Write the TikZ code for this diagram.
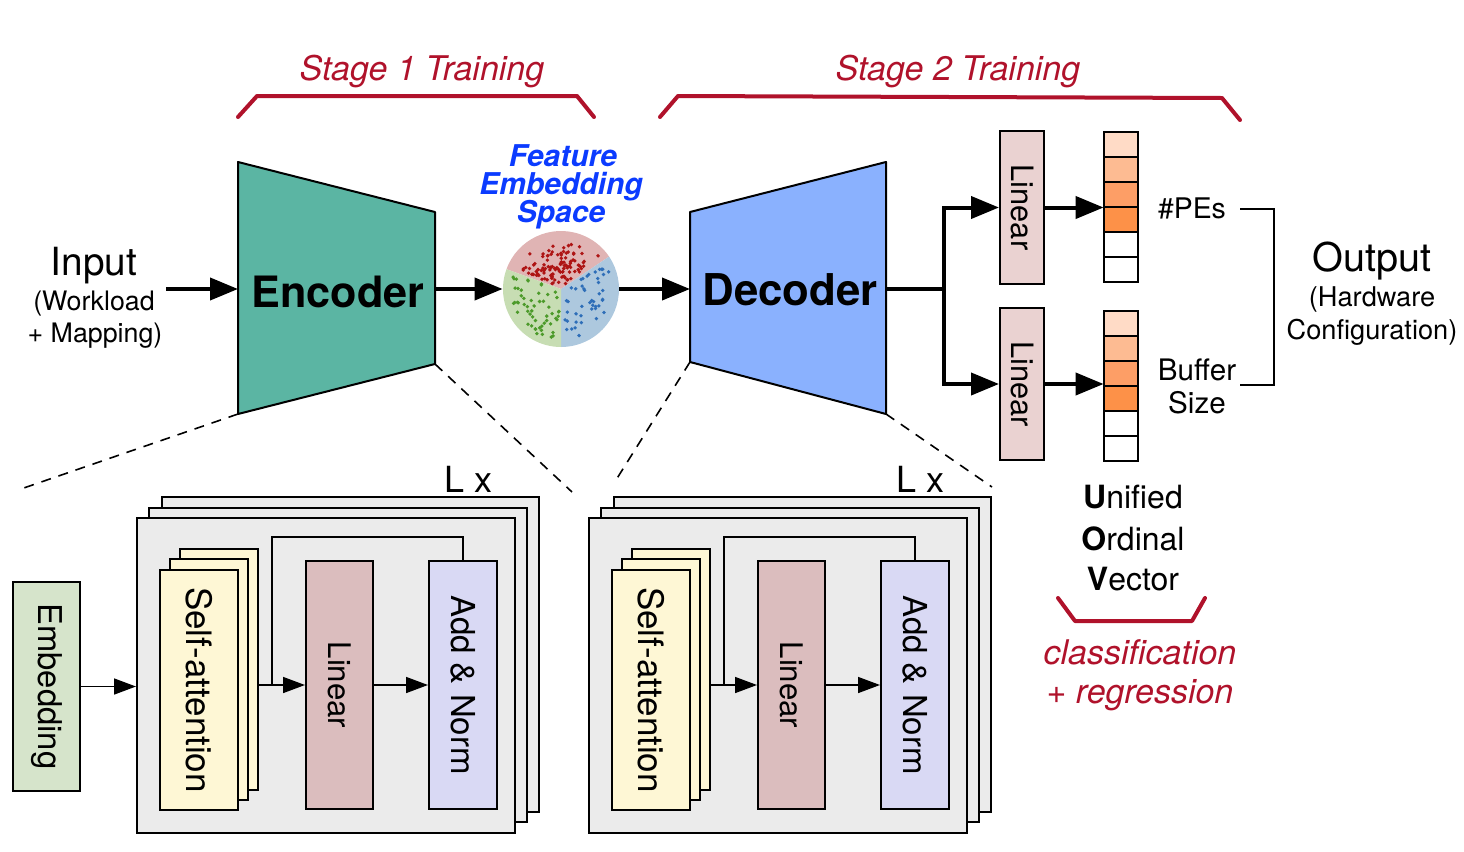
\documentclass[tikz,border=0pt]{standalone}
\usepackage{fontspec}
\setmainfont{TeX Gyre Heros}
\usetikzlibrary{arrows.meta,fit,calc}
\definecolor{enccol}{HTML}{5BB5A3}
\definecolor{deccol}{HTML}{8AB1FE}
\definecolor{lintop}{HTML}{EAD2D1}
\definecolor{linbot}{HTML}{DBBDBE}
\definecolor{addcol}{HTML}{D9D9F4}
\definecolor{sacol}{HTML}{FEF7D5}
\definecolor{embcol}{HTML}{D6E4CB}
\definecolor{greyc}{HTML}{EBEBEB}
\definecolor{vA}{HTML}{FFDBC6}
\definecolor{vB}{HTML}{FDBB92}
\definecolor{vC}{HTML}{FD9E66}
\definecolor{vD}{HTML}{FD9148}
\definecolor{stred}{HTML}{B0122B}
\definecolor{fblue}{HTML}{0B3BFF}
\definecolor{sphR}{HTML}{E0B4B4}
\definecolor{sphG}{HTML}{C7DDB3}
\definecolor{sphB}{HTML}{ADC8DE}
\definecolor{dR}{HTML}{AE1414}
\definecolor{dG}{HTML}{4C9A2A}
\definecolor{dB}{HTML}{2E6EB8}
\newcommand{\fsz}[1]{\fontsize{#1}{#1}\selectfont}
\tikzset{
  bigarrow/.style={line width=2pt,-{Triangle[length=14pt,width=11pt]}},
  bigline/.style={line width=2pt},
  sarrow/.style={line width=0.8pt,-{Triangle[length=11pt,width=8pt]}},
  thinline/.style={line width=0.8pt},
  boxbase/.style={draw=black,line width=1pt,inner sep=0pt},
  gbox/.style={boxbase,fill=greyc},
  sabox/.style={boxbase,fill=sacol},
  linbox/.style={boxbase,fill=linbot},
  linboxtop/.style={boxbase,fill=lintop},
  addbox/.style={boxbase,fill=addcol},
  embbox/.style={boxbase,fill=embcol},
  rot/.style={rotate=-90,inner sep=0pt},
  dashline/.style={line width=0.8pt,dash pattern=on 5pt off 4pt},
  redbrace/.style={draw=stred,line width=2pt,line cap=round,line join=round},
  redtxt/.style={text=stred,font=\itshape\fsz{17}},
  cell/.style={draw=black,line width=1pt},
}
\newcommand{\tfblock}[2]{%
  \node[gbox, fit={({162+#2},497) ({539+#2},812)}] (#1B) {};
  \node[gbox, fit={({149+#2},508) ({527+#2},822)}] (#1M) {};
  \node[gbox, fit={({137+#2},518) ({515+#2},833)}] (#1F) {};
  \node[anchor=base, font=\fsz{18}] (#1Lx) at ({469+#2},492) {L x};
  \node[sabox, fit={({180+#2},549) ({258+#2},790)}] (#1S3) {};
  \node[sabox, fit={({170+#2},559) ({248+#2},800)}] (#1S2) {};
  \node[sabox, fit={({160+#2},570) ({238+#2},810)}] (#1S1) {};
  \node[rot, font=\fsz{17.5}] (#1St) at (#1S1.center) {Self-attention};
  \node[linbox, fit={({306+#2},561) ({373+#2},809)}] (#1Lin) {};
  \node[rot, font=\fsz{15.6}] (#1Lt) at (#1Lin.center) {Linear};
  \node[addbox, fit={({429+#2},561) ({497+#2},809)}] (#1Add) {};
  \node[rot, font=\fsz{16.5}] (#1At) at (#1Add.center) {Add \& Norm};
  \coordinate (#1sk) at ({272+#2},685);
  \coordinate (#1top) at ({463+#2},537);
  \draw[sarrow] (#1Lin.west -| #1S3.east) -- (#1Lin.west);
  \draw[sarrow] (#1Lin.east) -- (#1Add.west);
  \draw[thinline] (#1sk) |- (#1top) -- (#1top |- #1Add.north);
}
\begin{document}
\begin{tikzpicture}[x=0.5pt,y=-0.5pt]
\path[use as bounding box] (0,0) rectangle (1464,852);

% ---- stage labels and braces
\node[redtxt, anchor=base] (st1) at (422,80) {Stage 1 Training};
\node[redtxt, anchor=base] (st2) at (958,80) {Stage 2 Training};
\draw[redbrace] (238,117) -- (257,96) -- (577,96) -- (594,117);
\draw[redbrace] (660,117) -- (678,96) -- (1222,98) -- (1240,120);

% ---- input text
\node[anchor=base, font=\fsz{19.4}] (inp) at (94,275) {Input};
\node[anchor=base, font=\fsz{13.4}] (inp2) at (94,310) {(Workload};
\node[anchor=base, font=\fsz{13.4}] (inp3) at (95,342) {+ Mapping)};
\coordinate (inpOut) at (166,289);

% ---- encoder
\coordinate (encTL) at (238,162);
\coordinate (encTR) at (435,212);
\coordinate (encBR) at (435,364);
\coordinate (encBL) at (238,414);
\draw[fill=enccol, line width=1pt, line join=round] (encTL) -- (encTR) -- (encBR) -- (encBL) -- cycle;
\coordinate (encIn) at (238,289);
\coordinate (encOut) at (435,289);
\node[anchor=base, font=\bfseries\fsz{21.6}] (enc) at (338,307) {Encoder};
\draw[bigarrow] (inpOut) -- (encIn);

% ---- feature embedding sphere
\node[anchor=base, text=fblue, font=\bfseries\itshape\fsz{15}] (fe1) at (563,166) {Feature};
\node[anchor=base, text=fblue, font=\bfseries\itshape\fsz{15}] (fe2) at (561,194) {Embedding};
\node[anchor=base, text=fblue, font=\bfseries\itshape\fsz{15}] (fe3) at (561,222) {Space};
\node[circle, minimum size=58pt, inner sep=0pt] (sphere) at (561,289) {};
\fill[sphR] (sphere.center) -- ++(200:58) arc[start angle=200, end angle=326, radius=58] -- cycle;
\fill[sphB] (sphere.center) -- ++(326:58) arc[start angle=326, end angle=450, radius=58] -- cycle;
\fill[sphG] (sphere.center) -- ++(90:58) arc[start angle=90, end angle=200, radius=58] -- cycle;
\pgfmathsetseed{11}
\foreach \i in {1,...,115}{
  \pgfmathsetmacro{\ang}{206+114*rnd}
  \pgfmathsetmacro{\rad}{5+46*sqrt(rnd)*rnd^0.3}
  \fill[dR] (sphere.center) ++(\ang:\rad) circle[radius=0.95pt];
}
\foreach \i in {1,...,55}{
  \pgfmathsetmacro{\ang}{95+100*rnd}
  \pgfmathsetmacro{\rad}{6+45*sqrt(rnd)}
  \fill[dG] (sphere.center) ++(\ang:\rad) circle[radius=0.95pt];
}
\foreach \i in {1,...,45}{
  \pgfmathsetmacro{\ang}{332+112*rnd}
  \pgfmathsetmacro{\rad}{6+45*sqrt(rnd)}
  \fill[dB] (sphere.center) ++(\ang:\rad) circle[radius=0.95pt];
}
\draw[bigarrow] (encOut) -- (sphere.west);

% ---- decoder
\coordinate (decTL) at (690,212);
\coordinate (decTR) at (886,162);
\coordinate (decBR) at (886,414);
\coordinate (decBL) at (690,362);
\draw[fill=deccol, line width=1pt, line join=round] (decTL) -- (decTR) -- (decBR) -- (decBL) -- cycle;
\coordinate (decIn) at (690,289);
\coordinate (decOut) at (886,289);
\node[anchor=base, font=\bfseries\fsz{21.9}] (dec) at (790,305) {Decoder};
\draw[bigarrow] (sphere.east) -- (decIn);

% ---- heads
\node[linboxtop, fit={(1000,131) (1044,284)}] (linA) {};
\node[rot, font=\fsz{15.4}] (linAt) at (linA.center) {Linear};
\node[linboxtop, fit={(1000,308) (1044,460)}] (linB) {};
\node[rot, font=\fsz{15.4}] (linBt) at (linB.center) {Linear};
\draw[bigline] (decOut) -- (944,289) coordinate (split);
\draw[bigarrow] (split) |- (linA.west);
\draw[bigarrow] (split) |- (linB.west);

% ---- vectors
\node[inner sep=0pt, fit={(1104,132) (1138,282)}] (vecA) {};
\node[inner sep=0pt, fit={(1104,311) (1138,461)}] (vecB) {};
\foreach \c [count=\k from 0] in {vA,vB,vC,vD,white,white}{
  \draw[cell, fill=\c] (1104,{132+25*\k}) rectangle (1138,{157+25*\k});
  \draw[cell, fill=\c] (1104,{311+25*\k}) rectangle (1138,{336+25*\k});
}
\draw[bigarrow] (linA.east) -- (vecA.west |- linA.east);
\draw[bigarrow] (linB.east) -- (vecB.west |- linB.east);

\node[anchor=base, font=\fsz{14.2}] (pes) at (1192,218) {\#PEs};
\node[anchor=base, font=\fsz{14.8}] (buf) at (1197,380) {Buffer};
\node[anchor=base, font=\fsz{14.8}] (bufs) at (1197,413) {Size};
\coordinate (brA) at (1240,209);
\coordinate (brB) at (1240,385);
\draw[line width=1pt] (brA) -- (1274,209) -- (1274,385) -- (brB);

\node[anchor=base, font=\fsz{19.8}] (outp) at (1372,271) {Output};
\node[anchor=base, font=\fsz{13.6}] (outp2) at (1372,306) {(Hardware};
\node[anchor=base, font=\fsz{13.6}] (outp3) at (1372,339) {Configuration)};

% ---- unified ordinal vector
\node[anchor=base, font=\fsz{16}] (uov1) at (1133,508) {\textbf{U}nified};
\node[anchor=base, font=\fsz{16}] (uov2) at (1133,550) {\textbf{O}rdinal};
\node[anchor=base, font=\fsz{16}] (uov3) at (1133,590) {\textbf{V}ector};
\draw[redbrace] (1058,598) -- (1075,621) -- (1192,621) -- (1205,598);
\node[redtxt, anchor=base] (cls1) at (1140,664) {classification};
\node[redtxt, anchor=base] (cls2) at (1140,703) {+ regression};

% ---- transformer blocks
\tfblock{e}{0}
\tfblock{d}{452}
\node[embbox, fit={(13,582) (80,791)}] (emb) {};
\node[rot, font=\fsz{16.4}] (embt) at (emb.center) {Embedding};
\draw[sarrow] (emb.east) -- (emb.east -| eF.west);

% ---- dashed zoom lines
\coordinate (dz1) at (18,490);
\coordinate (dz2) at (572,492);
\coordinate (dz3) at (616,480);
\coordinate (dz4) at (992,487);
\draw[dashline] (encBL) -- (dz1);
\draw[dashline] (encBR) -- (dz2);
\draw[dashline] (decBL) -- (dz3);
\draw[dashline] (decBR) -- (dz4);
\end{tikzpicture}
\end{document}
